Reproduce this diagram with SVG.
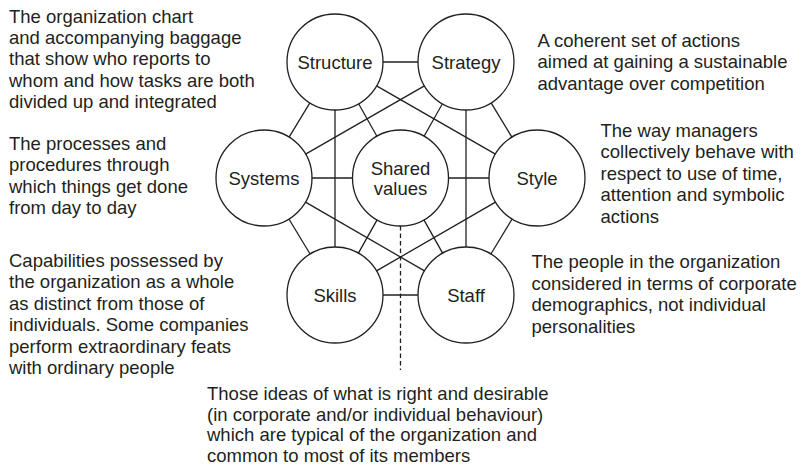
<svg xmlns="http://www.w3.org/2000/svg" width="800" height="468" viewBox="0 0 800 468">
<style>
text{font-family:"Liberation Sans",Arial,sans-serif;font-size:18.5px;fill:#231f20}
.n{text-anchor:middle}
.c{fill:#fff;stroke:#231f20;stroke-width:1.3}
#connectors line{stroke:#231f20;stroke-width:1.3;fill:none}
#connectors .dash{stroke-dasharray:4.5 3}
</style>
<rect width="800" height="468" fill="#fff"/>
<g id="connectors">
<line x1="383" y1="62" x2="418" y2="62"/>
<line x1="309.9" y1="102.9" x2="289.1" y2="137.1"/>
<line x1="335" y1="110" x2="335" y2="247"/>
<line x1="358.6" y1="103.8" x2="376.9" y2="136.2"/>
<line x1="376.6" y1="85.9" x2="495.4" y2="154.1"/>
<line x1="424.4" y1="85.9" x2="305.6" y2="154.1"/>
<line x1="442.4" y1="103.8" x2="424.1" y2="136.2"/>
<line x1="466" y1="110" x2="466" y2="247"/>
<line x1="491.1" y1="102.9" x2="511.9" y2="137.1"/>
<line x1="312" y1="178" x2="352.5" y2="178"/>
<line x1="448.5" y1="178" x2="489" y2="178"/>
<line x1="288.9" y1="219" x2="310.1" y2="254"/>
<line x1="305.5" y1="202.1" x2="424.5" y2="270.9"/>
<line x1="377.1" y1="219.9" x2="358.4" y2="253.1"/>
<line x1="423.9" y1="219.9" x2="442.6" y2="253.1"/>
<line x1="495.5" y1="202.1" x2="376.5" y2="270.9"/>
<line x1="512.1" y1="219" x2="490.9" y2="254"/>
<line x1="383" y1="295" x2="418" y2="295"/>
<line class="dash" x1="400.5" y1="226" x2="400.5" y2="370"/>
</g>
<g id="structure"><circle class="c" cx="335" cy="62" r="48"/><text class="n" x="335" y="68.5">Structure</text></g>
<g id="strategy"><circle class="c" cx="466" cy="62" r="48"/><text class="n" x="466" y="68.5">Strategy</text></g>
<g id="systems"><circle class="c" cx="264" cy="178" r="48"/><text class="n" x="264" y="184.5">Systems</text></g>
<g id="shared-values"><circle class="c" cx="400.5" cy="178" r="48"/><text class="n" x="400.5" y="175">Shared</text><text class="n" x="400.5" y="195">values</text></g>
<g id="style"><circle class="c" cx="537" cy="178" r="48"/><text class="n" x="537" y="184.5">Style</text></g>
<g id="skills"><circle class="c" cx="335" cy="295" r="48"/><text class="n" x="335" y="301.5">Skills</text></g>
<g id="staff"><circle class="c" cx="466" cy="295" r="48"/><text class="n" x="466" y="301.5">Staff</text></g>
<g id="desc-structure">
<text x="9" y="22.7">The organization chart</text>
<text x="9" y="44">and accompanying baggage</text>
<text x="9" y="65.3">that show who reports to</text>
<text x="9" y="86.7">whom and how tasks are both</text>
<text x="9" y="108">divided up and integrated</text>
</g>
<g id="desc-systems">
<text x="9" y="150">The processes and</text>
<text x="9" y="171.3">procedures through</text>
<text x="9" y="192.6">which things get done</text>
<text x="9" y="214">from day to day</text>
</g>
<g id="desc-skills">
<text x="9" y="266.7">Capabilities possessed by</text>
<text x="9" y="288.2">the organization as a whole</text>
<text x="9" y="309.7">as distinct from those of</text>
<text x="9" y="331.2">individuals. Some companies</text>
<text x="9" y="352.7">perform extraordinary feats</text>
<text x="9" y="374.2">with ordinary people</text>
</g>
<g id="desc-strategy">
<text x="537.5" y="46.7">A coherent set of actions</text>
<text x="537.5" y="68.3">aimed at gaining a sustainable</text>
<text x="537.5" y="90">advantage over competition</text>
</g>
<g id="desc-style">
<text x="600.5" y="136.7">The way managers</text>
<text x="600.5" y="158.2">collectively behave with</text>
<text x="600.5" y="179.7">respect to use of time,</text>
<text x="600.5" y="201.2">attention and symbolic</text>
<text x="600.5" y="222.7">actions</text>
</g>
<g id="desc-staff">
<text x="531.5" y="268">The people in the organization</text>
<text x="531.5" y="289.5">considered in terms of corporate</text>
<text x="531.5" y="311">demographics, not individual</text>
<text x="531.5" y="332.5">personalities</text>
</g>
<g id="desc-shared-values">
<text x="207" y="400">Those ideas of what is right and desirable</text>
<text x="207" y="420.7">(in corporate and/or individual behaviour)</text>
<text x="207" y="441.4">which are typical of the organization and</text>
<text x="207" y="462.1">common to most of its members</text>
</g>
</svg>
